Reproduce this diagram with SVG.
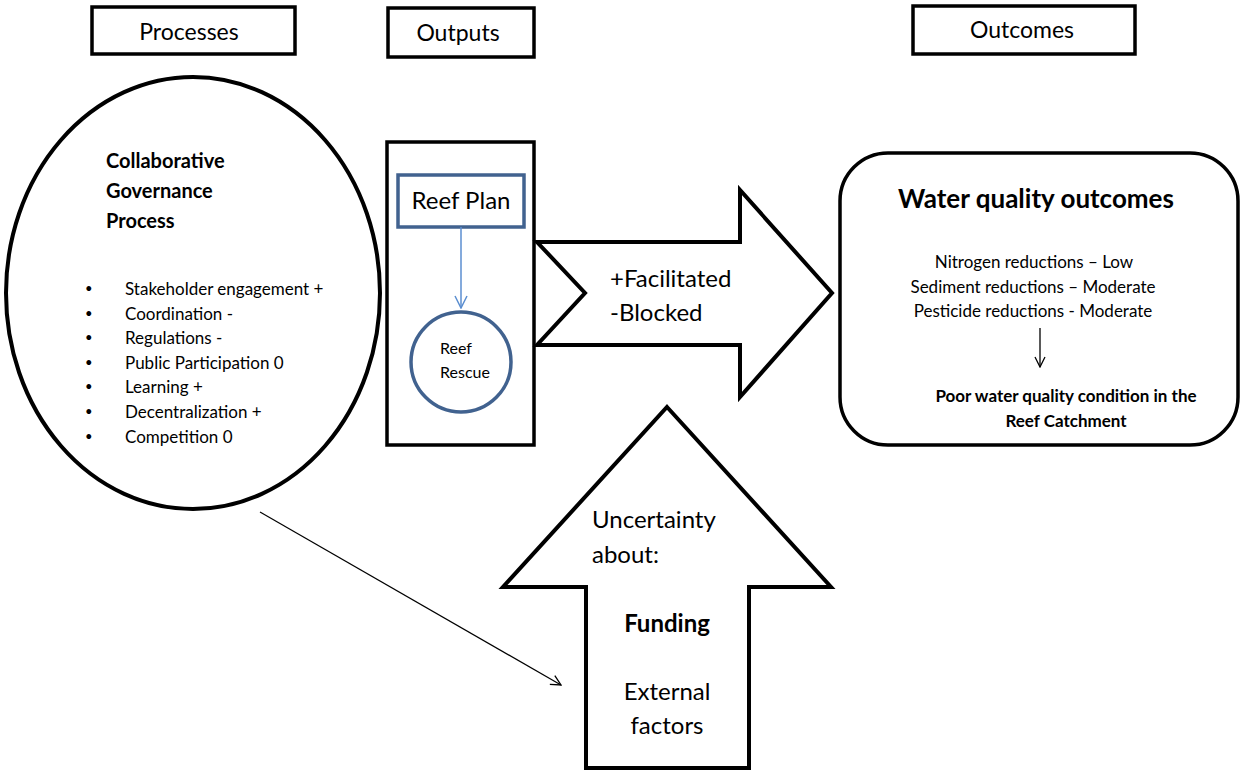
<svg xmlns="http://www.w3.org/2000/svg" width="1240" height="772" viewBox="0 0 1240 772">
  <defs>
    <style>
      text { font-family: Lato, "Open Sans", "Liberation Sans", sans-serif; fill: #000; }
      .hdr { font-size: 23px; text-anchor: middle; }
      .box { fill: #fff; stroke: #000; stroke-width: 3.5; }
      .shape { fill: #fff; stroke: #000; stroke-width: 4; stroke-linejoin: miter; }
      .bold { font-weight: bold; }
      .item { font-size: 17px; }
      .bullet { font-size: 13px; }
      .mid { text-anchor: middle; }
    </style>
    <marker id="openArrow" viewBox="0 0 12 12" refX="11" refY="6" markerWidth="12" markerHeight="12" markerUnits="userSpaceOnUse" orient="auto">
      <path d="M1,1 L11,6 L1,11" fill="none" stroke="#000" stroke-width="1.3"/>
    </marker>
    <marker id="openArrowBlue" viewBox="0 0 14 14" refX="13" refY="7" markerWidth="14" markerHeight="14" markerUnits="userSpaceOnUse" orient="auto">
      <path d="M1,1 L13,7 L1,13" fill="none" stroke="#5b8ed0" stroke-width="1.5"/>
    </marker>
  </defs>

  <rect width="1240" height="772" fill="#fff"/>

  <!-- column headers -->
  <g id="header-processes">
    <rect class="box" x="92" y="7" width="203" height="47"/>
    <text class="hdr" x="189" y="40">Processes</text>
  </g>
  <g id="header-outputs">
    <rect class="box" x="388" y="8" width="146" height="49"/>
    <text class="hdr" x="458" y="41">Outputs</text>
  </g>
  <g id="header-outcomes">
    <rect class="box" x="913" y="6" width="222" height="48"/>
    <text class="hdr" x="1022" y="38">Outcomes</text>
  </g>

  <!-- collaborative governance ellipse -->
  <g id="governance-process">
    <ellipse cx="193" cy="293" rx="187" ry="216" fill="#fff" stroke="#000" stroke-width="4"/>
    <text class="bold" font-size="20" x="106" y="168">Collaborative</text>
    <text class="bold" font-size="20" x="106" y="198">Governance</text>
    <text class="bold" font-size="20" x="106" y="228">Process</text>
    <g class="item">
      <text class="bullet" x="85" y="293">•</text><text x="125" y="295">Stakeholder engagement +</text>
      <text class="bullet" x="85" y="318">•</text><text x="125" y="320">Coordination -</text>
      <text class="bullet" x="85" y="342">•</text><text x="125" y="344">Regulations -</text>
      <text class="bullet" x="85" y="367">•</text><text x="125" y="369">Public Participation 0</text>
      <text class="bullet" x="85" y="391">•</text><text x="125" y="393">Learning +</text>
      <text class="bullet" x="85" y="416">•</text><text x="125" y="418">Decentralization +</text>
      <text class="bullet" x="85" y="441">•</text><text x="125" y="443">Competition 0</text>
    </g>
  </g>

  <!-- outputs panel -->
  <g id="outputs-panel">
    <rect class="box" x="387" y="142" width="147" height="303"/>
  </g>
  <g id="reef-plan">
    <rect x="398" y="175" width="126" height="52" fill="#fff" stroke="#41628f" stroke-width="3.5"/>
    <text class="mid" font-size="24" x="461" y="209">Reef Plan</text>
  </g>
  <g id="reef-rescue">
    <circle cx="461" cy="362" r="50" fill="#fff" stroke="#41628f" stroke-width="3.5"/>
    <text font-size="16" x="440" y="354">Reef</text>
    <text font-size="16" x="440" y="378">Rescue</text>
  </g>

  <!-- facilitated / blocked arrow -->
  <g id="facilitation-arrow">
    <path class="shape" d="M537,242 L740,242 L740,190 L832,293 L740,397 L740,345 L537,345 L585,293 Z"/>
    <text font-size="24" x="610" y="287">+Facilitated</text>
    <text font-size="24" x="610" y="321">-Blocked</text>
  </g>

  <!-- water quality outcomes -->
  <g id="water-quality-outcomes">
    <rect x="840" y="153" width="398" height="292" rx="48" ry="48" fill="#fff" stroke="#000" stroke-width="3.5"/>
    <text class="bold mid" font-size="26" x="1036" y="208">Water quality outcomes</text>
    <text class="mid item" x="1034" y="268">Nitrogen reductions – Low</text>
    <text class="mid item" x="1033" y="293">Sediment reductions – Moderate</text>
    <text class="mid item" x="1033" y="317">Pesticide reductions - Moderate</text>
    <line x1="1040" y1="328" x2="1040" y2="367" stroke="#000" stroke-width="1.3" marker-end="url(#openArrow)"/>
    <text class="bold mid" font-size="17" x="1066" y="402">Poor water quality condition in the</text>
    <text class="bold mid" font-size="17" x="1066" y="427">Reef Catchment</text>
  </g>

  <!-- uncertainty arrow -->
  <g id="uncertainty-arrow">
    <path class="shape" d="M667,407 L831,587 L749,587 L749,768 L586,768 L586,587 L503,587 Z"/>
    <text font-size="24" x="592" y="528">Uncertainty</text>
    <text font-size="24" x="592" y="563">about:</text>
    <text class="bold mid" font-size="24" x="667" y="632">Funding</text>
    <text class="mid" font-size="24" x="667" y="700">External</text>
    <text class="mid" font-size="24" x="667" y="734">factors</text>
  </g>

  <!-- connectors -->
  <g id="connectors">
    <line x1="461" y1="227" x2="461" y2="308" stroke="#5b8ed0" stroke-width="1.5" marker-end="url(#openArrowBlue)"/>
    <line x1="260" y1="512" x2="561" y2="685" stroke="#000" stroke-width="1.2" marker-end="url(#openArrow)"/>
  </g>
</svg>
